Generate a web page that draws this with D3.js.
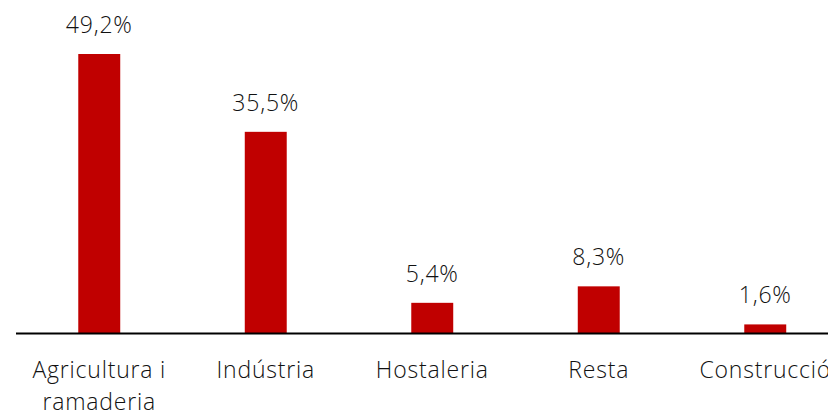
<!DOCTYPE html>
<html><head><meta charset="utf-8">
<script src="https://cdn.jsdelivr.net/npm/d3@7"></script>
<style>body{margin:0;background:#fff}svg{display:block}text{font-family:"Open Sans",Lato,sans-serif;font-weight:300;fill:#111;letter-spacing:0.8px}</style>
</head><body><svg id="c" width="828" height="413"></svg>
<script>
const categories = ["Agricultura i ramaderia", "Indústria", "Hostaleria", "Resta", "Construcció"];
const categoryLines = [["Agricultura i", "ramaderia"], ["Indústria"], ["Hostaleria"], ["Resta"], ["Construcció"]];
const values = [49.2, 35.5, 5.4, 8.3, 1.6];
const valueLabels = ["49,2%", "35,5%", "5,4%", "8,3%", "1,6%"];

const svg = d3.select("#c");
const baseline = 333.5;
const x = d3.scaleBand().domain(categories).range([16, 848.5]).paddingInner(0.748).paddingOuter(0.374);
const y = d3.scaleLinear().domain([0, 49.2]).range([baseline, 54]);

svg.selectAll("rect.bar").data(values).enter().append("rect")
  .attr("class", "bar")
  .attr("x", (d, i) => x(categories[i]))
  .attr("width", x.bandwidth())
  .attr("y", d => y(d))
  .attr("height", d => baseline - y(d))
  .attr("fill", "#C00000");

svg.selectAll("text.val").data(values).enter().append("text")
  .attr("class", "val")
  .attr("x", (d, i) => x(categories[i]) + x.bandwidth() / 2)
  .attr("y", d => y(d) - 21)
  .attr("text-anchor", "middle")
  .attr("font-size", 23)
  .text((d, i) => valueLabels[i]);

const axis = d3.axisBottom(x).tickSize(0).tickFormat("");
const g = svg.append("g").attr("transform", `translate(0,${baseline})`).call(axis);
g.select(".domain").attr("stroke", "#000").attr("stroke-width", 2).attr("d", "M16,0H848.5");

categories.forEach((c, i) => {
  const t = svg.append("text")
    .attr("x", x(c) + x.bandwidth() / 2)
    .attr("y", 378)
    .attr("text-anchor", "middle")
    .attr("font-size", 23);
  categoryLines[i].forEach((ln, j) => {
    t.append("tspan").attr("x", x(c) + x.bandwidth() / 2).attr("dy", j ? 32 : 0).text(ln);
  });
});
</script></body></html>
